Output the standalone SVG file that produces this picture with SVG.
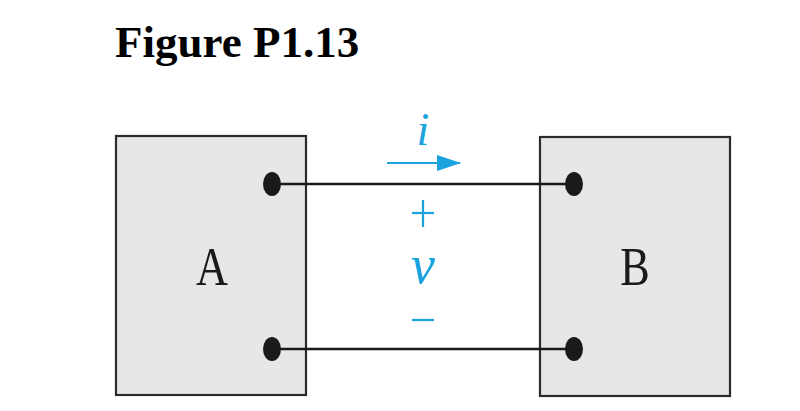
<svg xmlns="http://www.w3.org/2000/svg" width="800" height="411" viewBox="0 0 800 411">
<style>
.box{fill:#e7e7e7;stroke:#2b2b2b;stroke-width:2.2}
.wire{stroke:#1a1a1a;stroke-width:2.4;fill:none}
.dot{fill:#1a1a1a}
.lbl{font-family:"Liberation Serif",serif;font-size:54px;fill:#1a1a1a;text-anchor:middle}
.blue{fill:#1aa3df;font-family:"Liberation Serif",serif;font-style:italic;text-anchor:middle}
.bl{stroke:#1aa3df;stroke-width:2.2;fill:none}
</style>
<defs>
<marker id="ah" markerWidth="24" markerHeight="16" refX="23" refY="8" orient="auto" markerUnits="userSpaceOnUse">
<path d="M0,0 L24,8 L0,16 Z" fill="#1aa3df"/>
</marker>
</defs>
<text x="115" y="57" font-family="Liberation Serif,serif" font-weight="bold" font-size="45" fill="#000">Figure P1.13</text>
<g id="nodeA">
<rect class="box" x="116" y="136" width="190" height="259"/>
<text class="lbl" transform="translate(212,285) scale(0.82,1)">A</text>
<ellipse class="dot" cx="272" cy="184" rx="9" ry="12"/>
<ellipse class="dot" cx="272" cy="349" rx="9" ry="12"/>
</g>
<g id="nodeB">
<rect class="box" x="540" y="137" width="190" height="259"/>
<text class="lbl" transform="translate(635,285) scale(0.82,1)">B</text>
<ellipse class="dot" cx="574" cy="184" rx="9" ry="12"/>
<ellipse class="dot" cx="574" cy="349" rx="9" ry="12"/>
</g>
<g id="connectors">
<line class="wire" x1="272" y1="184" x2="574" y2="184"/>
<line class="wire" x1="272" y1="349" x2="574" y2="349"/>
<line class="bl" x1="387" y1="163" x2="460" y2="163" marker-end="url(#ah)"/>
</g>
<g id="labels">
<text class="blue" x="423" y="145" font-size="46">i</text>
<line class="bl" x1="412" y1="213" x2="434" y2="213"/>
<line class="bl" x1="423" y1="200" x2="423" y2="227"/>
<text class="blue" x="423" y="283" font-size="54">v</text>
<line class="bl" x1="412" y1="320" x2="434" y2="320"/>
</g>
</svg>
